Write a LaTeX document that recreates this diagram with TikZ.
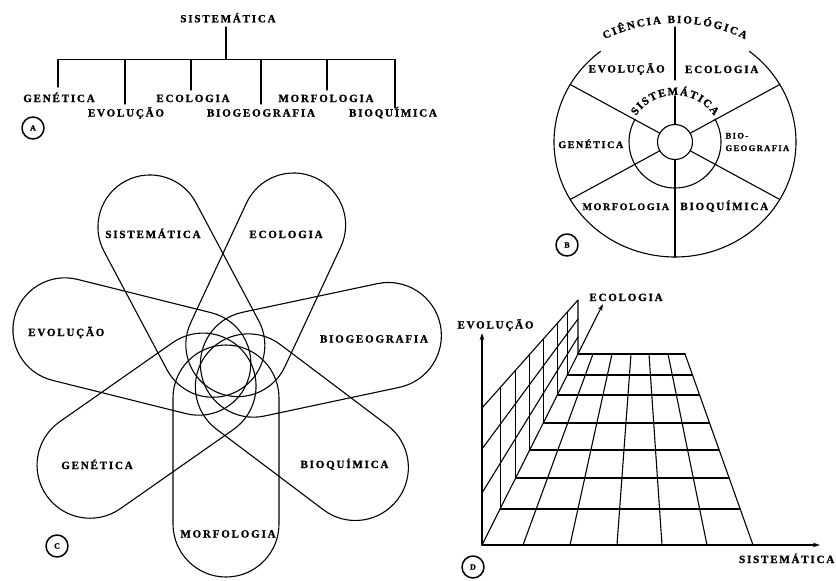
\documentclass[tikz,border=0pt]{standalone}
\usepackage{fontspec}
\setmainfont{Liberation Serif}
\newfontfamily\labf{Liberation Serif}[LetterSpace=16.5,BoldFeatures={FakeBold=1.2}]
\newfontfamily\plainf{Liberation Serif}[BoldFeatures={FakeBold=1.2}]
\usetikzlibrary{calc,arrows.meta}
% #1 centre, #2 radius, #3 start angle (visual), #4 tracking, #5 font, #6 list char/width
\newcommand\arcword[6]{%
  \gdef\arcpos{0}%
  \foreach \ch/\cw in {#6}{%
    \pgfmathsetmacro\ang{#3-(\arcpos+0.5*\cw)/#2*57.29578}%
    \node[inner sep=0pt,anchor=base,font=#5,rotate=\ang-90] at ($(#1)+(-\ang:#2)$) {\ch};%
    \pgfmathsetmacro\np{\arcpos+\cw+#4}%
    \global\let\arcpos\np
  }%
}
\begin{document}
\begin{tikzpicture}[x=1pt,y=-1pt,line width=1.1pt,line cap=round,line join=round,
  lab/.style={inner sep=0pt,anchor=base,font={\labf\bfseries\fontsize{11}{12}\selectfont}},
  labs/.style={inner sep=0pt,anchor=base,font={\labf\bfseries\fontsize{10}{12}\selectfont}},
  labxs/.style={inner sep=0pt,anchor=base west,font={\labf\bfseries\fontsize{8.5}{10}\selectfont}},
  tag/.style={circle,draw,line width=1.5pt,minimum size=22pt,inner sep=0pt,font={\plainf\bfseries\fontsize{8}{9}\selectfont}},
  axisarrow/.style={-{Stealth[length=7pt,width=4.5pt]}}]
\useasboundingbox[fill=white] (0,0) rectangle (836,581);

% ---------------- Panel A ----------------
\node[lab] (aS) at (228,22.3) {SISTEMÁTICA};
\coordinate (aT) at (226,27);
\coordinate (aJ) at (226,59.5);
\draw (aT) -- (aJ);
\coordinate (aL) at (58,59.5);
\coordinate (aR) at (395,59.5);
\draw (aL) -- (aR);
\foreach \x/\yb [count=\i] in {58/87,125/104,191/90,261/104,327/90,395/108}{
  \coordinate (ad\i) at (\x,59.5);
  \coordinate (ae\i) at (\x,\yb);
  \draw (ad\i) -- (ae\i);
}
\node[lab] (a1) at (59,102) {GENÉTICA};
\node[lab] (a2) at (126,116.5) {EVOLUÇÃO};
\node[lab] (a3) at (193,102) {ECOLOGIA};
\node[lab] (a4) at (261,116.5) {BIOGEOGRAFIA};
\node[lab] (a5) at (326,102) {MORFOLOGIA};
\node[lab] (a6) at (393,116.5) {BIOQUÍMICA};
\node[tag] (tA) at (33,128) {A};

% ---------------- Panel B ----------------
\coordinate (Bc) at (675,142);
\coordinate (Bt) at (675,183);
% outer boundary (open at the top where the title is)
\draw ($(Bc)+(-128:121 and 115)$) arc[start angle=-128,end angle=-412,x radius=121,y radius=115];
% inner ring (open at the top)
\draw ($(Bc)+(-150:46)$) arc[start angle=-150,end angle=-390,radius=46];
% small central circle
\draw (Bc) circle[radius=17.5];
% spokes
\foreach \a in {30,150,210,330}{
  \draw ($(Bc)+(-\a:17.5)$) -- ($(Bc)+(-\a:121 and 115)$);
}
\draw ($(Bc)+(0,-115)$) -- ($(Bc)+(0,-62)$);
\draw ($(Bc)+(0,-46)$) -- ($(Bc)+(0,-17.5)$);
\draw ($(Bc)+(0,17.5)$) -- ($(Bc)+(0,115)$);
\arcword{Bt}{160}{116.1}{1.9}{\plainf\bfseries\fontsize{11}{12}\selectfont}{C/7.94,I/4.28,Ê/7.34,N/7.94,C/7.94,I/4.28,A/7.94,~/2.75,B/7.34,I/4.28,O/8.56,L/7.34,Ó/8.56,G/8.56,I/4.28,C/7.94,A/7.94}
\arcword{Bc}{47}{146}{1.5}{\plainf\bfseries\fontsize{11}{12}\selectfont}{S/6.12,I/4.28,S/6.12,T/7.34,E/7.34,M/10.38,Á/7.94,T/7.34,I/4.28,C/7.94,A/7.94}
\node[lab] (b1) at (626.7,72.5) {EVOLUÇÃO};
\node[lab] (b2) at (721.7,73) {ECOLOGIA};
\node[labs] (b3) at (590.8,148) {GENÉTICA};
\node[labxs] (b4) at (725,138.5) {BIO-};
\node[labxs] (b5) at (725,151) {GEOGRAFIA};
\node[labs] (b6) at (625.8,210) {MORFOLOGIA};
\node[lab] (b7) at (724.3,210) {BIOQUÍMICA};
\node[tag] (tB) at (567,245) {B};

% ---------------- Panel C ----------------
\coordinate (Cc) at (226,370);
\foreach \ang/\dout/\r in {270/154/53, 323/162/53, 12/166/53, 65/160/52, 118/162/52, 166/166/52, 215/166/53}{
  \begin{scope}[shift={(Cc)},rotate=\ang]
    \draw (28,-\r) -- (\dout,-\r) arc[start angle=-90,end angle=90,radius=\r]
          -- (28,\r) arc[start angle=90,end angle=270,radius=\r] -- cycle;
  \end{scope}
}
\node[lab] (c1) at (153,238) {SISTEMÁTICA};
\node[lab] (c2) at (286,238) {ECOLOGIA};
\node[lab] (c3) at (66.3,336) {EVOLUÇÃO};
\node[lab] (c4) at (374,342.5) {BIOGEOGRAFIA};
\node[lab] (c5) at (97,469) {GENÉTICA};
\node[lab] (c6) at (344.5,468) {BIOQUÍMICA};
\node[lab] (c7) at (228,537.5) {MORFOLOGIA};
\node[tag] (tC) at (57,546) {C};

% ---------------- Panel D ----------------
\coordinate (O) at (482,545);
\coordinate (Xend) at (820,545);
\coordinate (Yend) at (482,333);
\coordinate (Zend) at (603,304);
% floor columns
\foreach \xf/\xb [count=\i] in {523/593,570/612,617/631,662/649,707/668,753/685}{
  \coordinate (ff\i) at (\xf,545);
  \coordinate (fb\i) at (\xb,354);
  \draw (ff\i) -- (fb\i);
}
% floor rows and wall verticals
\foreach \y [count=\i] in {354,375,395,423,450,478,509}{
  \coordinate (rl\i) at ({482+(545-\y)/191*96},\y);
  \coordinate (rr\i) at ({753-(545-\y)/191*68},\y);
  \draw (rl\i) -- (rr\i);
  \ifnum\i>1
    \coordinate (wt\i) at ({482+(545-\y)/191*96},{408-((545-\y)/191*96)*108/96});
    \draw (rl\i) -- (wt\i);
  \fi
}
% wall
\coordinate (wTL) at (482,408);
\coordinate (wTR) at (578,300);
\coordinate (wBR) at (578,354);
\draw (wTL) -- (wTR) -- (wBR);
\coordinate (wl1) at (482,493); \coordinate (wr1) at (578,337);
\coordinate (wl2) at (482,449); \coordinate (wr2) at (578,319);
\draw (wl1) -- (wr1);
\draw (wl2) -- (wr2);
% axes
\draw[axisarrow] (O) -- (Xend);
\draw[axisarrow] (O) -- (Yend);
\draw[axisarrow] (O) -- (Zend);
\node[lab] (d1) at (495.5,328.5) {EVOLUÇÃO};
\node[lab] (d2) at (626,301) {ECOLOGIA};
\node[lab] (d3) at (786.7,563) {SISTEMÁTICA};
\node[tag] (tD) at (473,567) {D};
\end{tikzpicture}
\end{document}
